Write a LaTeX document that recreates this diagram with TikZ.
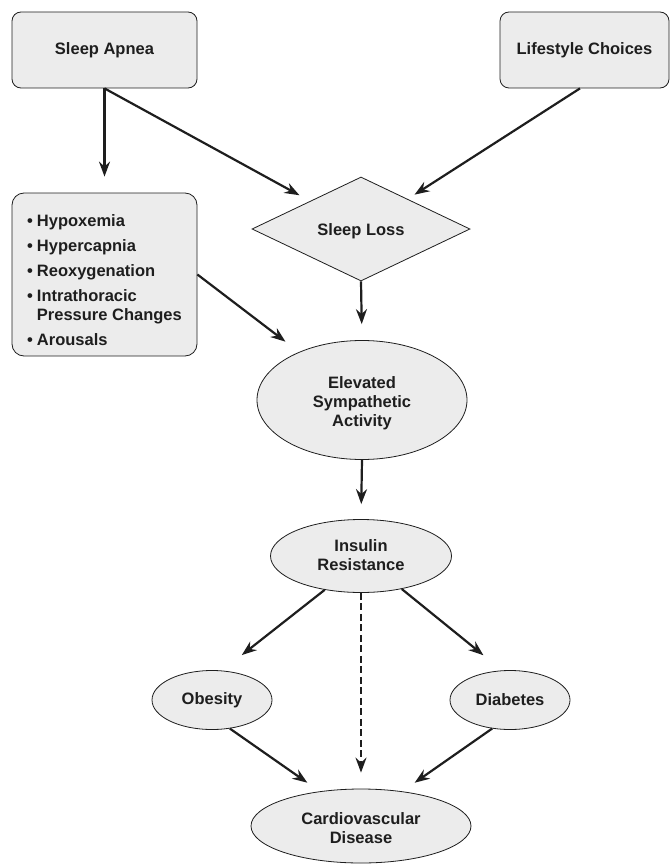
\documentclass[tikz,border=0pt]{standalone}
\usepackage{fontspec}
\setmainfont{Liberation Sans}
\usetikzlibrary{shapes.geometric,arrows.meta}
\definecolor{fillg}{HTML}{ECECEC}
\definecolor{inkc}{HTML}{1E1E1E}
\newcommand{\lowtxt}[2]{\raisebox{#1}[\height][\depth]{\begin{tabular}{@{}c@{}}#2\end{tabular}}}
\begin{document}
\begin{tikzpicture}[x=1pt,y=-1pt,
  every node/.style={font=\fontsize{16.5}{19}\selectfont\bfseries, text=inkc},
  base/.style={draw=inkc, line width=0.8pt, fill=fillg, inner sep=0pt, align=center},
  rbox/.style={base, rectangle, rounded corners=9pt},
  oval/.style={base, ellipse},
  dia/.style={base, diamond, aspect=2.096},
  conn/.style={draw=inkc, line width=2.2pt, -{Stealth[length=15pt,width=11pt,inset=5pt]}},
]
\useasboundingbox (0,0) rectangle (670,864);
\node[rbox, minimum width=185pt, minimum height=76pt] (sa) at (104.5,50) {Sleep Apnea};
\node[rbox, minimum width=169pt, minimum height=76pt] (lc) at (584.5,50) {Lifestyle Choices};
\node[rbox, rounded corners=12pt, minimum width=185pt, minimum height=163pt] (bl) at (104.5,274.5)
  {\raisebox{-8pt}[\height][\depth]{\begin{tabular}{@{}l@{\hspace{4pt}}l@{}}
   • & Hypoxemia\\[6pt]
   • & Hypercapnia\\[6pt]
   • & Reoxygenation\\[6pt]
   • & Intrathoracic\\
     & Pressure Changes\\[6pt]
   • & Arousals
   \end{tabular}}};
\node[dia, minimum width=218pt, minimum height=104pt] (sl) at (361,229) {\raisebox{-2pt}[\height][\depth]{Sleep Loss}};
\node[oval, minimum width=210pt, minimum height=119pt] (es) at (362,400) {\lowtxt{-4pt}{Elevated\\Sympathetic\\Activity}};
\node[oval, minimum width=181pt, minimum height=73pt] (ir) at (361,556) {\lowtxt{-1pt}{Insulin\\Resistance}};
\node[oval, minimum width=120pt, minimum height=59pt] (ob) at (212,700) {Obesity};
\node[oval, minimum width=120pt, minimum height=59pt] (db) at (510,700) {Diabetes};
\node[oval, minimum width=220pt, minimum height=74pt] (cv) at (361,826) {\lowtxt{-4pt}{Cardiovascular\\Disease}};

\draw[conn, shorten >=16pt] (sa.south) -- (bl.north);
\draw[conn, shorten >=12pt] (sa.south) -- (sl);
\draw[conn, shorten >=8pt] ([xshift=-4.5pt]lc.south) -- (sl);
\draw[conn, shorten >=16pt] (sl.south) -- (es.north);
\draw[conn, shorten >=17pt] (bl.east) -- (es);
\draw[conn, shorten >=15pt] (es.south) -- (ir.north);
\draw[conn, shorten >=25pt] (ir.-137) -- (ob.71);
\draw[conn, shorten >=24pt] (ir.-39) -- (db.105);
\draw[conn, dash pattern=on 7pt off 3.5pt, shorten >=16pt] (ir.south) -- (cv.north);
\draw[conn, shorten >=15pt] (ob.-58) -- (cv.140);
\draw[conn, shorten >=15pt] (db.-122) -- (cv.40);
\end{tikzpicture}
\end{document}
